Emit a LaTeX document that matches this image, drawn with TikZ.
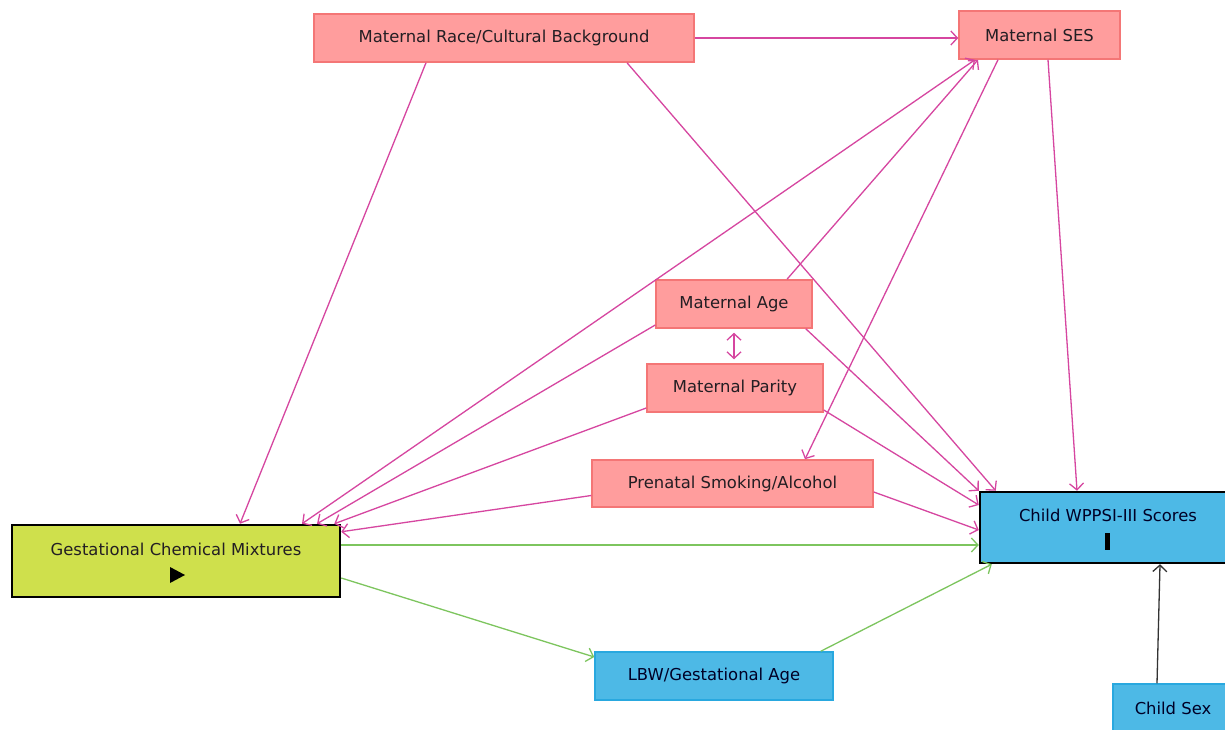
\documentclass[tikz,border=0pt]{standalone}
\usepackage{fontspec}
\setmainfont{DejaVu Sans}
\usetikzlibrary{arrows.meta}
\definecolor{pinkfill}{RGB}{255,157,157}
\definecolor{pinkdraw}{RGB}{244,118,118}
\definecolor{pinkline}{RGB}{214,70,160}
\definecolor{greenline}{RGB}{125,197,94}
\definecolor{bluefill}{RGB}{77,185,230}
\definecolor{bluedraw}{RGB}{41,168,223}
\definecolor{limefill}{RGB}{207,224,76}
\definecolor{txt}{RGB}{35,30,35}
\tikzset{
  box/.style={rectangle, inner sep=0pt, font=\fontsize{16.4}{19}\selectfont, text=txt},
  pinkbox/.style={box, fill=pinkfill, draw=pinkdraw, line width=1.5pt, minimum height=48pt},
  bluebox/.style={box, fill=bluefill, draw=bluedraw, line width=1.5pt, minimum height=48pt},
  keybox/.style={box, draw=black, line width=2.5pt},
  arr/.style={line width=1.3pt, -{Straight Barb[length=6.5pt,width=14pt,line width=1.3pt]}},
  darr/.style={line width=1.3pt, {Straight Barb[length=6.5pt,width=14pt,line width=1.3pt]}-{Straight Barb[length=6.5pt,width=14pt,line width=1.3pt]}},
  pk/.style={arr, draw=pinkline},
  gr/.style={arr, draw=greenline},
  bk/.style={arr, draw=black!80},
}
\begin{document}
\begin{tikzpicture}[x=1pt,y=-1pt]
\useasboundingbox (0,0) rectangle (1225,730);
\clip (0,0) rectangle (1225,730);
\fill[white] (0,0) rectangle (1225,730);

\node[pinkbox, minimum width=380pt] (race) at (504,38) {Maternal Race/Cultural Background};
\node[pinkbox, minimum width=161pt] (ses) at (1039.5,35) {Maternal SES};
\node[pinkbox, minimum width=156pt] (age) at (734,304) {Maternal Age};
\node[pinkbox, minimum width=176pt] (parity) at (735,388) {Maternal Parity};
\node[pinkbox, minimum width=281pt, minimum height=47pt] (smoke) at (732.5,483.5) {Prenatal Smoking/Alcohol};
\node[keybox, fill=limefill, minimum width=328pt, minimum height=72pt] (gcm) at (176,561) {};
\node[box, anchor=center] (gcmtext) at (176,549) {Gestational Chemical Mixtures};
\fill[black] (gcm.center) ++(-6,6) -- ++(15,8) -- ++(-15,8) -- cycle;
\node[keybox, fill=bluefill, minimum width=256pt, minimum height=71pt] (wppsi) at (1108,527.5) {};
\node[box, text=black!85!blue] (wppsitext) at (1108,515) {Child WPPSI-III Scores};
\fill[black] (1105,533) rectangle (1110,550);
\node[bluebox, minimum width=238pt, text=black!85!blue] (lbw) at (714,676) {LBW/Gestational Age};
\node[bluebox, minimum width=120pt, text=black!85!blue] (sex) at (1173,708) {Child Sex};

% pink connectors
\draw[pk] (race.east) -- (race.east -| ses.west);
\draw[pk] ([xshift=-78pt]race.south) -- ([xshift=64pt]gcm.north);
\draw[pk] ([xshift=123pt]race.south) -- ([xshift=17pt]wppsi.north west);
\draw[pk, darr] ([xshift=126pt]gcm.north) -- ([xshift=-64.5pt]ses.south);
\draw[pk] ([xshift=53pt]age.north) -- ([xshift=-61.5pt]ses.south);
\draw[pk] ([yshift=-21pt]age.west) -- ([xshift=141pt]gcm.north);
\draw[pk] ([yshift=-20pt]parity.west) -- ([xshift=-7pt]gcm.north east);
\draw[pk] ([yshift=-12pt]smoke.west) -- ([yshift=-8pt]gcm.north east);
\draw[pk, darr, shorten <=4pt, shorten >=4pt] (age.south) -- (age.south |- parity.north);
\draw[pk] ([xshift=-7pt]age.south east) -- (wppsi.north west);
\draw[pk] ([yshift=-22pt]parity.east) -- ([yshift=22.5pt]wppsi.west);
\draw[pk] ([yshift=-8.5pt]smoke.east) -- ([yshift=-2.5pt]wppsi.west);
\draw[pk] ([xshift=8.5pt]ses.south) -- ([xshift=-31pt]wppsi.north);
\draw[pk] ([xshift=-41.5pt]ses.south) -- ([xshift=72.5pt]smoke.north);

% green connectors
\draw[gr] ([yshift=16pt]gcm.east) -- ([yshift=16pt]gcm.east -| wppsi.west);
\draw[gr] ([yshift=-17pt]gcm.east) -- ([yshift=19pt]lbw.west);
\draw[gr] ([xshift=-13pt]lbw.north east) -- ([xshift=13pt]wppsi.south west);

% black connector
\draw[bk] ([xshift=-16pt]sex.north) -- ([xshift=52pt]wppsi.south);
\end{tikzpicture}
\end{document}
